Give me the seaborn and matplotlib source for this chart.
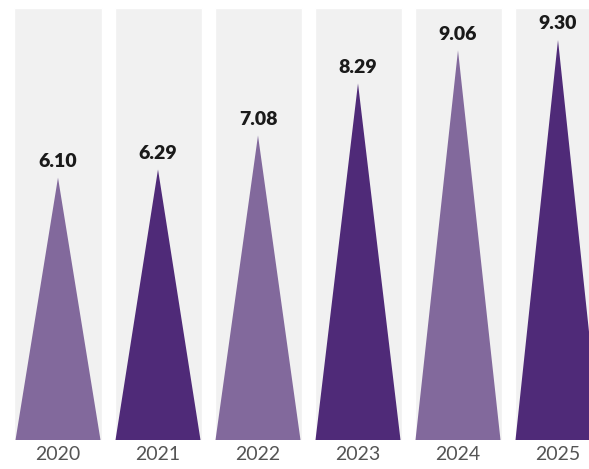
import numpy as np
import pandas as pd
import seaborn as sns
import matplotlib.pyplot as plt
from matplotlib.patches import Polygon

years = ["2020", "2021", "2022", "2023", "2024", "2025"]
values = [6.10, 6.29, 7.08, 8.29, 9.06, 9.30]
shade = ["light", "dark", "light", "dark", "light", "dark"]

df = pd.DataFrame({"year": years, "value": values, "shade": shade})
colors = {"light": "#82699c", "dark": "#4f2a78"}

sns.set_style("white")
plt.rcParams["font.family"] = ["Lato", "DejaVu Sans"]

fig = plt.figure(figsize=(5.89, 4.69), dpi=100)
ax = fig.add_axes([0, 29 / 469, 1, 440 / 469])

# grey background columns
for i in range(len(years)):
    ax.bar(i, 10.05, width=0.87, color="#f1f1f1", zorder=0)

sns.barplot(data=df, x="year", y="value", hue="shade", palette=colors,
            saturation=1, width=0.85, dodge=False, legend=False, ax=ax,
            zorder=1)

# turn each bar into a spike
for p in ax.patches[len(years):]:
    x0, w, h = p.get_x(), p.get_width(), p.get_height()
    if h == 0:
        continue
    tri = Polygon([(x0, 0), (x0 + w / 2, h), (x0 + w, 0)], closed=True,
                  facecolor=p.get_facecolor(), edgecolor="none", zorder=2)
    ax.add_patch(tri)
    p.set_visible(False)
    ax.text(x0 + w / 2, h + 0.18, f"{h:.2f}", ha="center", va="bottom",
            fontsize=14, fontweight="heavy", color="#1a1a1a")

ax.set_xlim(-0.58, 5.31)
ax.set_ylim(0, 10.23)
ax.set_xlabel("")
ax.set_ylabel("")
ax.set_yticks([])
ax.tick_params(axis="x", length=0, pad=4, labelsize=14, labelcolor="#555555")
sns.despine(ax=ax, left=True, bottom=True)

fig.savefig("out.png", dpi=100)
